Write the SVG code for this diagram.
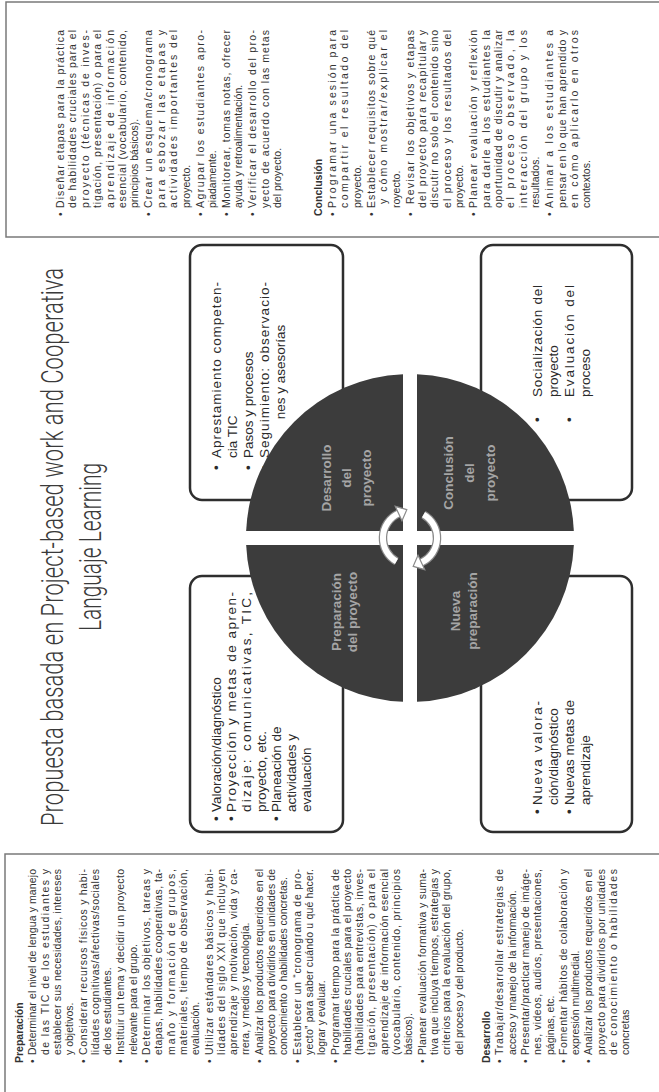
<svg xmlns="http://www.w3.org/2000/svg" width="659" height="1092" viewBox="0 0 659 1092">
<style>
.strip{fill:none;stroke:#7a7a7a;stroke-width:1.5}
.t{font-family:"Liberation Sans",Arial,sans-serif;font-size:10.5px;fill:#333}
.h{font-weight:bold}
.bx{fill:#fff;stroke:#2e2e2e;stroke-width:2.5}
.bt{font-family:"Liberation Sans",Arial,sans-serif;font-size:13.5px;fill:#2a2a2a}
.q{fill:#3c3c3c}
.ql{font-family:"Liberation Sans",Arial,sans-serif;font-size:13.5px;font-weight:bold;fill:#a5a5a5;text-anchor:middle}
.title{font-family:Roboto,"Liberation Sans",sans-serif;font-weight:300;font-size:31px;fill:#3a3a3a;text-anchor:middle}
.arr{fill:#fff;stroke:#8a8a8a;stroke-width:1.2}
.arc-o{fill:none;stroke:#8a8a8a;stroke-width:8.5}
.arc-i{fill:none;stroke:#fff;stroke-width:6}
</style>
<rect width="659" height="1092" fill="#fff"/>

<g id="title">
<g transform="matrix(0 -1 1 0 0 1092)">
<text class="title" x="545" y="63" textLength="558" lengthAdjust="spacingAndGlyphs">Propuesta basada en Project-based work and Cooperativa</text>
<text class="title" x="545" y="101" textLength="168" lengthAdjust="spacingAndGlyphs">Languaje Learning</text>
</g>
</g>

<g id="panel-preparacion-desarrollo">
<path class="strip" d="M659,854 H5 V1092"/>
<g transform="matrix(0 -1 1 0 0 1092)" class="t">
<text class="h" x="29" y="23">Preparación</text>
<text x="29" y="36.3">•</text><text x="37" y="36.3" textLength="186">Determinar el nivel de lengua y manejo</text>
<text x="37" y="48.6" textLength="186">de las TIC de los estudiantes y</text>
<text x="37" y="60.9" textLength="186">establecer sus necesidades, intereses</text>
<text x="37" y="73.2">y objetivos.</text>
<text x="29" y="86.5">•</text><text x="37" y="86.5" textLength="186">Considerar recursos físicos y habi-</text>
<text x="37" y="98.8" textLength="186">lidades cognitivas/afectivas/sociales</text>
<text x="37" y="111.1">de los estudiantes.</text>
<text x="29" y="124.4">•</text><text x="37" y="124.4" textLength="186">Instituir un tema y decidir un proyecto</text>
<text x="37" y="136.7">relevante para el grupo.</text>
<text x="29" y="150">•</text><text x="37" y="150" textLength="186">Determinar los objetivos, tareas y</text>
<text x="37" y="162.3" textLength="186">etapas, habilidades cooperativas, ta-</text>
<text x="37" y="174.6" textLength="186">maño y formación de grupos,</text>
<text x="37" y="186.9" textLength="186">materiales, tiempo de observación,</text>
<text x="37" y="199.2">evaluación.</text>
<text x="29" y="212.5">•</text><text x="37" y="212.5" textLength="186">Utilizar estándares básicos y habi-</text>
<text x="37" y="224.8" textLength="186">lidades del siglo XXI que incluyen</text>
<text x="37" y="237.1" textLength="186">aprendizaje y motivación, vida y ca-</text>
<text x="37" y="249.4">rrera, y medios y tecnología.</text>
<text x="29" y="262.7">•</text><text x="37" y="262.7" textLength="186">Analizar los productos requeridos en el</text>
<text x="37" y="275" textLength="186">proyecto para dividirlos en unidades de</text>
<text x="37" y="287.3">conocimiento o habilidades concretas.</text>
<text x="29" y="300.6">•</text><text x="37" y="300.6" textLength="186">Establecer un “cronograma de pro-</text>
<text x="37" y="312.9" textLength="186">yecto” para saber cuándo u qué hacer.</text>
<text x="37" y="325.2">lograr y evaluar.</text>
<text x="29" y="338.5">•</text><text x="37" y="338.5" textLength="186">Programar tiempo para la práctica de</text>
<text x="37" y="350.8" textLength="186">habilidades cruciales para el proyecto</text>
<text x="37" y="363.1" textLength="186">(habilidades para entrevistas, inves-</text>
<text x="37" y="375.4" textLength="186">tigación, presentación) o para el</text>
<text x="37" y="387.7" textLength="186">aprendizaje de información esencial</text>
<text x="37" y="400" textLength="186">(vocabulario, contenido, principios</text>
<text x="37" y="412.3">básicos).</text>
<text x="29" y="425.6">•</text><text x="37" y="425.6" textLength="186">Planear evaluación formativa y suma-</text>
<text x="37" y="437.9" textLength="186">tiva que incluya tiempos, estrategias y</text>
<text x="37" y="450.2" textLength="186">criterios para la evaluación del grupo,</text>
<text x="37" y="462.5">del proceso y del producto.</text>
<text class="h" x="29" y="490">Desarrollo</text>
<text x="29" y="503.3">•</text><text x="37" y="503.3" textLength="186">Trabajar/desarrollar estrategias de</text>
<text x="37" y="515.6">acceso y manejo de la información.</text>
<text x="29" y="528.9">•</text><text x="37" y="528.9" textLength="186">Presentar/practicar manejo de imáge-</text>
<text x="37" y="541.2" textLength="186">nes, videos, audios, presentaciones,</text>
<text x="37" y="553.5">páginas, etc.</text>
<text x="29" y="566.8">•</text><text x="37" y="566.8" textLength="186">Fomentar hábitos de colaboración y</text>
<text x="37" y="579.1">expresión multimedial.</text>
<text x="29" y="592.4">•</text><text x="37" y="592.4" textLength="186">Analizar los productos requeridos en el</text>
<text x="37" y="604.7" textLength="186">proyecto para dividirlos por unidades</text>
<text x="37" y="617" textLength="186">de conocimiento o habilidades</text>
<text x="37" y="629.3">concretas</text>
</g>
</g>

<g id="panel-desarrollo-conclusion">
<path class="strip" d="M659,2 H6 V237 H659"/>
<g transform="matrix(0 -1 1 0 0 1092)" class="t">
<text x="876" y="64">•</text><text x="884" y="64" textLength="178">Diseñar etapas para la práctica</text>
<text x="884" y="76.4" textLength="178">de habilidades cruciales para el</text>
<text x="884" y="88.8" textLength="178">proyecto (técnicas de inves-</text>
<text x="884" y="101.2" textLength="178">tigación, presentación) o para el</text>
<text x="884" y="113.6" textLength="178">aprendizaje de información</text>
<text x="884" y="126" textLength="178">esencial (vocabulario, contenido,</text>
<text x="884" y="138.4">principios básicos).</text>
<text x="876" y="152.4">•</text><text x="884" y="152.4" textLength="178">Crear un esquema/cronograma</text>
<text x="884" y="164.8" textLength="178">para esbozar las etapas y</text>
<text x="884" y="177.2" textLength="178">actividades importantes del</text>
<text x="884" y="189.6">proyecto.</text>
<text x="876" y="203.6">•</text><text x="884" y="203.6" textLength="178">Agrupar los estudiantes apro-</text>
<text x="884" y="216">piadamente.</text>
<text x="876" y="230">•</text><text x="884" y="230" textLength="178">Monitorear, tomas notas, ofrecer</text>
<text x="884" y="242.4">ayuda y retroalimentación.</text>
<text x="876" y="256.4">•</text><text x="884" y="256.4" textLength="178">Verificar el desarrollo del pro-</text>
<text x="884" y="268.8" textLength="178">yecto de acuerdo con las metas</text>
<text x="884" y="281.2">del proyecto.</text>
<text class="h" x="876" y="322">Conclusión</text>
<text x="876" y="336">•</text><text x="884" y="336" textLength="178">Programar una sesión para</text>
<text x="884" y="348.4" textLength="178">compartir el resultado del</text>
<text x="884" y="360.8">proyecto.</text>
<text x="876" y="374.8">•</text><text x="884" y="374.8" textLength="178">Establecer requisitos sobre qué</text>
<text x="888" y="387.2" textLength="174">y cómo mostrar/explicar el</text>
<text x="884" y="399.6">royecto.</text>
<text x="876" y="413.6">•</text><text x="888" y="413.6" textLength="174">Revisar los objetivos y etapas</text>
<text x="884" y="426" textLength="178">del proyecto para recapitular y</text>
<text x="884" y="438.4" textLength="178">discutir no solo el contenido sino</text>
<text x="884" y="450.8" textLength="178">el proceso y los resultados del</text>
<text x="884" y="463.2">proyecto.</text>
<text x="876" y="477.2">•</text><text x="884" y="477.2" textLength="178">Planear evaluación y reflexión</text>
<text x="884" y="489.6" textLength="178">para darle a los estudiantes la</text>
<text x="884" y="502" textLength="178">oportunidad de discutir y analizar</text>
<text x="884" y="514.4" textLength="178">el proceso observado, la</text>
<text x="884" y="526.8" textLength="178">interacción del grupo y los</text>
<text x="884" y="539.2">resultados.</text>
<text x="876" y="553.2">•</text><text x="884" y="553.2" textLength="178">Animar a los estudiantes a</text>
<text x="884" y="565.6" textLength="178">pensar en lo que han aprendido y</text>
<text x="884" y="578" textLength="178">en cómo aplicarlo en otros</text>
<text x="884" y="590.4">contextos.</text>
</g>
</g>

<g id="box-desarrollo">
<rect class="bx" x="190" y="245" width="153" height="255" rx="12"/>
<g transform="matrix(0 -1 1 0 0 1092)" class="bt">
<text x="622" y="221">•</text><text x="634" y="221" textLength="176">Aprestamiento competen-</text>
<text x="634" y="237">cia TIC</text>
<text x="622" y="253">•</text><text x="634" y="253">Pasos y procesos</text>
<text x="622" y="269">•</text><text x="634" y="269" textLength="176">Seguimiento: observacio-</text>
<text x="720" y="285" text-anchor="middle">nes y asesorías</text>
</g>
</g>

<g id="box-conclusion">
<rect class="bx" x="481" y="245" width="151" height="255" rx="12"/>
<g transform="matrix(0 -1 1 0 0 1092)" class="bt">
<text x="670" y="541.5">•</text><text x="695" y="541.5" textLength="112">Socialización del</text>
<text x="695" y="557.5">proyecto</text>
<text x="670" y="573.5">•</text><text x="695" y="573.5" textLength="112">Evaluación del</text>
<text x="695" y="589.5">proceso</text>
</g>
</g>

<g id="box-preparacion">
<rect class="bx" x="190" y="576" width="153" height="256" rx="12"/>
<g transform="matrix(0 -1 1 0 0 1092)" class="bt">
<text x="271" y="221">•</text><text x="280" y="221">Valoración/diagnóstico</text>
<text x="271" y="236">•</text><text x="280" y="236" textLength="220">Proyección y metas de apren-</text>
<text x="280" y="251" textLength="220">dizaje: comunicativas, TIC,</text>
<text x="280" y="266">proyecto, etc.</text>
<text x="271" y="281">•</text><text x="280" y="281">Planeación de</text>
<text x="280" y="296">actividades y</text>
<text x="280" y="311">evaluación</text>
</g>
</g>

<g id="box-nueva">
<rect class="bx" x="481" y="576" width="151" height="256" rx="12"/>
<g transform="matrix(0 -1 1 0 0 1092)" class="bt">
<text x="278" y="541.5">•</text><text x="287" y="541.5" textLength="104">Nueva valora-</text>
<text x="287" y="557.5">ción/diagnóstico</text>
<text x="278" y="573.5">•</text><text x="287" y="573.5">Nuevas metas de</text>
<text x="287" y="589.5">aprendizaje</text>
</g>
</g>

<g id="q-desarrollo">
<path class="q" d="M403,531 L403,374.15 A164,164 0 0 0 246.15,531 Z"/>
<g transform="matrix(0 -1 1 0 0 1092)" class="ql">
<text x="614" y="331">Desarrollo</text><text x="614" y="351">del</text><text x="614" y="371">proyecto</text>
</g>
</g>
<g id="q-conclusion">
<path class="q" d="M417,531 L417,374.15 A164,164 0 0 1 573.85,531 Z"/>
<g transform="matrix(0 -1 1 0 0 1092)" class="ql">
<text x="619" y="453">Conclusión</text><text x="619" y="474">del</text><text x="619" y="495">proyecto</text>
</g>
</g>
<g id="q-preparacion">
<path class="q" d="M403,545 L403,701.85 A164,164 0 0 1 246.15,545 Z"/>
<g transform="matrix(0 -1 1 0 0 1092)" class="ql">
<text x="480" y="341">Preparación</text><text x="480" y="357">del proyecto</text>
</g>
</g>
<g id="q-nueva">
<path class="q" d="M417,545 L417,701.85 A164,164 0 0 0 573.85,545 Z"/>
<g transform="matrix(0 -1 1 0 0 1092)" class="ql">
<text x="481" y="460">Nueva</text><text x="481" y="477">preparación</text>
</g>
</g>

<g id="connectors">
<path class="arc-o" d="M396.5,561.4 A27,27 0 0 1 398.6,513.5"/>
<path class="arc-i" d="M396.5,561.4 A27,27 0 0 1 398.6,513.5"/>
<polygon class="arr" points="406.8,509.7 395.2,506.3 402,520.7"/>
<path class="arc-o" d="M423.5,514.6 A27,27 0 0 1 421.4,562.5"/>
<path class="arc-i" d="M423.5,514.6 A27,27 0 0 1 421.4,562.5"/>
<polygon class="arr" points="413.2,566.3 424.8,569.7 418,555.3"/>
</g>
</svg>
